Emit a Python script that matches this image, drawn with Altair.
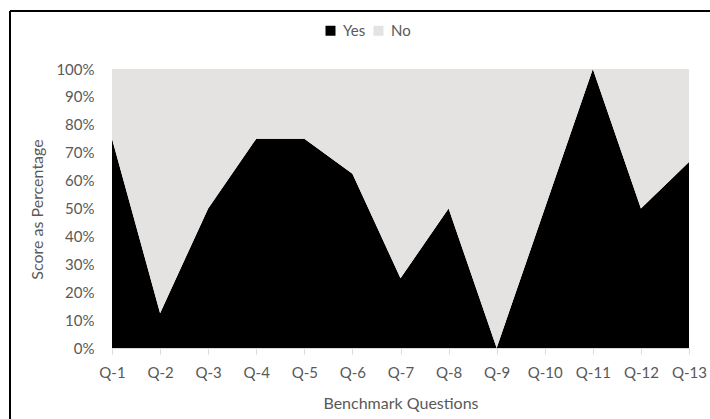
import altair as alt
import pandas as pd

questions = ["Q-1", "Q-2", "Q-3", "Q-4", "Q-5", "Q-6", "Q-7",
             "Q-8", "Q-9", "Q-10", "Q-11", "Q-12", "Q-13"]
yes_pct = [75, 12.5, 50, 75, 75, 62.5, 25, 50, 0, 50, 100, 50, 66.7]
no_pct = [25, 87.5, 50, 25, 25, 37.5, 75, 50, 100, 50, 0, 50, 33.3]
series = ["Yes", "No"]
series_colors = ["#000000", "#e4e3e1"]

rows = []
for q, y, n in zip(questions, yes_pct, no_pct):
    rows.append({"question": q, "answer": "Yes", "value": y, "rank": 0})
    rows.append({"question": q, "answer": "No", "value": n, "rank": 1})
df = pd.DataFrame(rows)

FONT = "Lato"
TXT = "#595959"

area = alt.Chart(df).mark_area(interpolate="linear").encode(
    x=alt.X(
        "question:N",
        sort=questions,
        scale=alt.Scale(type="point", padding=0),
        axis=alt.Axis(
            title="Benchmark Questions",
            labelAngle=0,
            labelFont=FONT, labelFontSize=15, labelColor=TXT,
            labelPadding=11,
            titleFont=FONT, titleFontSize=16, titleColor=TXT, titleFontWeight="normal",
            titleY=47,
            tickSize=6, tickColor="#d9d9d9", domainColor="#d9d9d9",
            grid=False,
        ),
    ),
    y=alt.Y(
        "value:Q",
        stack="normalize",
        scale=alt.Scale(domain=[0, 1]),
        axis=alt.Axis(
            title="Score as Percentage",
            values=[0, 0.1, 0.2, 0.3, 0.4, 0.5, 0.6, 0.7, 0.8, 0.9, 1.0],
            format=".0%",
            labelFont=FONT, labelFontSize=15, labelColor=TXT,
            labelPadding=18,
            ticks=False, domain=False, grid=False,
            titleFont=FONT, titleFontSize=16, titleColor=TXT, titleFontWeight="normal",
            titleX=-75, titleY=140, titleAngle=270,
            titleAlign="center", titleBaseline="middle",
        ),
    ),
    color=alt.Color(
        "answer:N",
        scale=alt.Scale(domain=series, range=series_colors),
        legend=alt.Legend(
            title=None, orient="none", legendX=211, legendY=-46,
            direction="horizontal",
            symbolType="square", symbolSize=100, symbolStrokeWidth=0,
            labelFont=FONT, labelFontSize=15, labelColor=TXT,
            labelOffset=5, columnPadding=5,
        ),
    ),
    order=alt.Order("rank:Q"),
)

frame_df = pd.DataFrame({"k": [0]})
top_border = alt.Chart(frame_df).mark_rule(color="#000000", strokeWidth=2).encode(
    x=alt.value(-102), x2=alt.value(620), y=alt.value(-58)
)
left_border = alt.Chart(frame_df).mark_rule(color="#000000", strokeWidth=2).encode(
    x=alt.value(-102), y=alt.value(-58), y2=alt.value(360)
)

chart = alt.layer(area, top_border, left_border).properties(
    width=577,
    height=279,
    autosize=alt.AutoSizeParams(type="none"),
    padding={"left": 112, "top": 69, "right": 21, "bottom": 71},
    background="#ffffff",
).configure_view(stroke=None)

chart.save("out.html", embed_options={"renderer": "svg", "actions": False})
